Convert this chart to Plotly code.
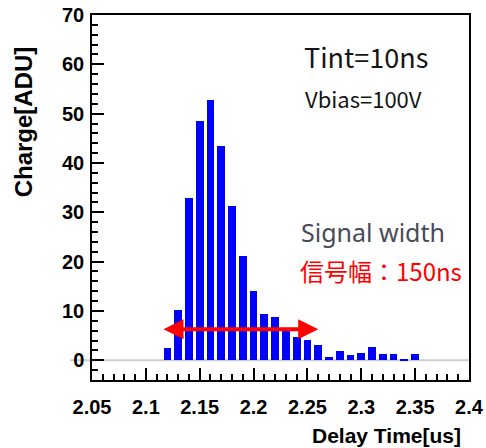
import plotly.graph_objects as go

# Delay-time histogram (bin centres in us) and charge per bin in ADU
delay_time = [2.12, 2.13, 2.14, 2.15, 2.16, 2.17, 2.18, 2.19, 2.20, 2.21, 2.22, 2.23,
              2.24, 2.25, 2.26, 2.27, 2.28, 2.29, 2.30, 2.31, 2.32, 2.33, 2.34, 2.35]
charge = [2.4, 10.1, 33.0, 48.5, 52.7, 43.4, 31.3, 21.2, 14.1, 9.4, 8.8, 6.0,
          4.7, 4.1, 3.0, 0.7, 1.8, 1.15, 1.55, 2.6, 1.35, 1.35, 0.2, 1.35]

x_ticks = [2.05, 2.1, 2.15, 2.2, 2.25, 2.3, 2.35, 2.4]
x_tick_labels = ["2.05", "2.1", "2.15", "2.2", "2.25", "2.3", "2.35", "2.4"]
y_ticks = [0, 10, 20, 30, 40, 50, 60, 70]

x_range = [2.05, 2.4]
y_range = [-4, 70]

# Extent of the signal-width arrow (us) and its height (ADU)
signal_span = [2.115, 2.26]
signal_level = 6.3

BAR_WIDTH = 0.0072
AXIS_FONT = dict(family="Liberation Sans, Arial, sans-serif", size=20, color="black")

fig = go.Figure()
fig.add_trace(go.Bar(
    x=delay_time, y=charge, width=BAR_WIDTH,
    marker=dict(color="#0000ff", line=dict(width=0)),
    showlegend=False,
))

baseline_y = (0 - y_range[0]) / (y_range[1] - y_range[0])
fig.add_shape(type="line", xref="paper", yref="paper",
              x0=-0.058, x1=1.0, y0=baseline_y, y1=baseline_y,
              line=dict(color="#cfcfcf", width=2), layer="below")

fig.add_annotation(
    x=signal_span[1], y=signal_level, ax=signal_span[0], ay=signal_level,
    xref="x", yref="y", axref="x", ayref="y",
    text="", showarrow=True, arrowhead=2, startarrowhead=2,
    arrowside="end+start", arrowwidth=4, arrowsize=1, startarrowsize=1,
    arrowcolor="#ff0000",
)

text_font = "Noto Sans CJK JP, Noto Sans, sans-serif"


def label(x, y, text, font, xanchor="center", **kw):
    fig.add_annotation(x=x, y=y, xref="paper", yref="paper",
                       xanchor=xanchor, yanchor="middle",
                       text=text, showarrow=False, font=font, **kw)


label(0.727, 0.885, "Tint=10ns", dict(family=text_font, size=27, color="#151515"))
label(0.719, 0.772, "Vbias=100V", dict(family=text_font, size=22, color="#151515"))
label(0.550, 0.405, "Signal width",
      dict(family="Noto Sans, sans-serif", size=25, color="#484c58"), xanchor="left")
label(0.546, 0.300, "信号幅：150ns",
      dict(family=text_font, size=24, color="#ff0000"), xanchor="left")

# Axis titles
label(0.984, -0.151, "<b>Delay Time[us]</b>",
      dict(family="Liberation Sans, Arial, sans-serif", size=21, color="black"),
      xanchor="right")
label(-0.183, 0.706, "<b>Charge[ADU]</b>",
      dict(family="Liberation Sans, Arial, sans-serif", size=24, color="black"),
      textangle=-90)

fig.update_xaxes(
    range=x_range, tickvals=x_ticks, ticktext=x_tick_labels,
    ticks="inside", ticklen=12, tickwidth=1.5, tickcolor="black",
    minor=dict(dtick=0.01, tick0=2.05, ticks="inside", ticklen=6, tickwidth=1.5, tickcolor="black"),
    showline=True, linecolor="black", linewidth=1.5, mirror=True,
    showgrid=False, zeroline=False, automargin=False,
    tickfont=dict(AXIS_FONT, weight="bold"), ticklabelstandoff=8,
)
fig.update_yaxes(
    range=y_range, tickvals=y_ticks,
    ticks="inside", ticklen=12, tickwidth=1.5, tickcolor="black",
    minor=dict(dtick=2, tick0=0, ticks="inside", ticklen=6, tickwidth=1.5, tickcolor="black"),
    showline=True, linecolor="black", linewidth=1.5, mirror=True,
    showgrid=False, zeroline=False, automargin=False,
    tickfont=dict(AXIS_FONT, weight="bold"), ticklabelstandoff=2,
)

fig.update_layout(
    width=486, height=448,
    margin=dict(l=92, r=17, t=15, b=68),
    paper_bgcolor="white", plot_bgcolor="white",
    bargap=0,
)

fig.write_html("out.html")
